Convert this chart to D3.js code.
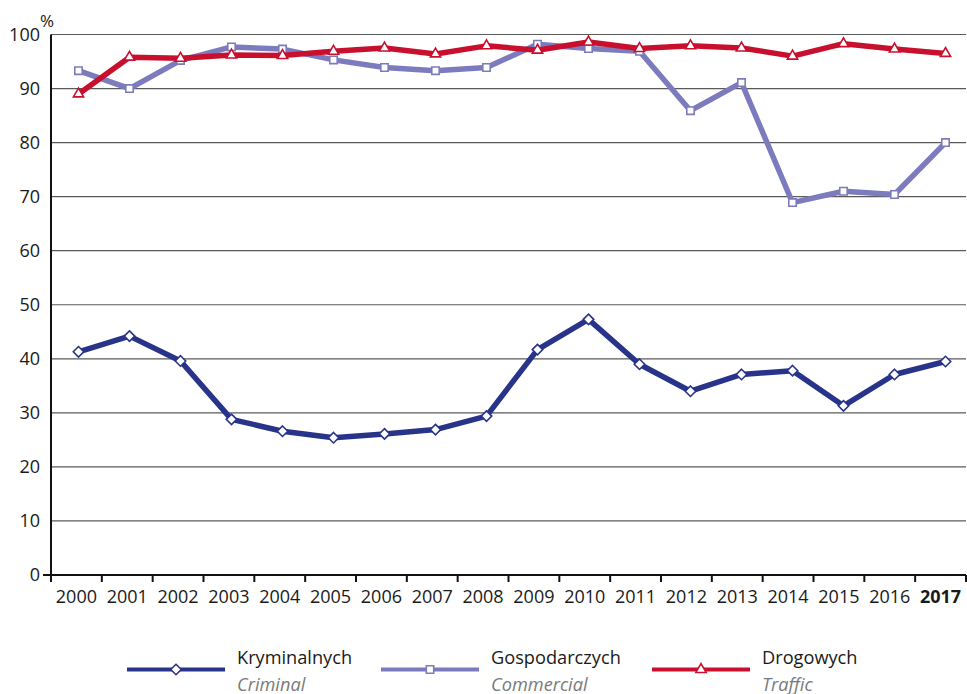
<!DOCTYPE html>
<html>
<head>
<meta charset="utf-8">
<script src="https://cdn.jsdelivr.net/npm/d3@7"></script>
<style>
  body { margin: 0; background: #fff; }
  svg { display: block; font-family: "Open Sans", sans-serif; }
  .tick-label { font-size: 18px; fill: #1a1a1a; }
  .legend-pl { font-size: 18.2px; fill: #1a1a1a; }
  .legend-en { font-size: 18.2px; fill: #7a7a7a; font-style: italic; }
</style>
</head>
<body>
<div id="chart"></div>
<script>
function drawChart() {

	///////////////////////////////////////////////////////////////////////////
	//////////////////////////////// The data /////////////////////////////////
	///////////////////////////////////////////////////////////////////////////

	var years = ["2000","2001","2002","2003","2004","2005","2006","2007","2008",
		"2009","2010","2011","2012","2013","2014","2015","2016","2017"];

	var criminal = [41.3, 44.2, 39.6, 28.8, 26.6, 25.4, 26.1, 26.9, 29.4,
		41.7, 47.3, 39.0, 34.0, 37.1, 37.8, 31.3, 37.1, 39.5];
	var commercial = [93.3, 90.0, 95.2, 97.7, 97.3, 95.3, 93.9, 93.3, 93.9,
		98.2, 97.4, 96.9, 85.9, 91.1, 68.9, 71.0, 70.4, 80.0];
	var traffic = [89.0, 95.8, 95.6, 96.2, 96.1, 96.9, 97.5, 96.4, 97.9,
		97.1, 98.6, 97.4, 97.9, 97.5, 96.0, 98.3, 97.3, 96.5];

	var yTicks = [0, 10, 20, 30, 40, 50, 60, 70, 80, 90, 100];

	var series = [
		{pl: "Kryminalnych", en: "Criminal", values: criminal, color: "#28338a", symbol: d3.symbolDiamond2, size: 70},
		{pl: "Gospodarczych", en: "Commercial", values: commercial, color: "#7b7bbd", symbol: d3.symbolSquare2, size: 70},
		{pl: "Drogowych", en: "Traffic", values: traffic, color: "#c8102e", symbol: d3.symbolTriangle2, size: 75}
	];

	///////////////////////////////////////////////////////////////////////////
	//////////////////////////// Set up the SVG ///////////////////////////////
	///////////////////////////////////////////////////////////////////////////

	var width = 967, height = 694;
	var plot = {left: 51, right: 966, top: 34.5, bottom: 575};

	var svg = d3.select("#chart").append("svg")
		.attr("width", width)
		.attr("height", height);

	//Axis uses bands, the markers sit slightly right of the band centres
	var xBand = d3.scaleBand().domain(years).range([plot.left, plot.right]);
	var x = d3.scalePoint().domain(years).range([78.5, 945.5]);
	var y = d3.scaleLinear().domain([0, 100]).range([plot.bottom, plot.top]);

	///////////////////////////////////////////////////////////////////////////
	//////////////////////////////// Grid & axes //////////////////////////////
	///////////////////////////////////////////////////////////////////////////

	svg.append("g").selectAll("line")
		.data(yTicks.filter(function(d) { return d > 0; }))
		.enter().append("line")
		.attr("x1", plot.left).attr("x2", plot.right)
		.attr("y1", function(d) { return y(d); })
		.attr("y2", function(d) { return y(d); })
		.style("stroke", "#5a5a5a")
		.style("stroke-width", 1.2);

	svg.append("g").selectAll("text")
		.data(yTicks)
		.enter().append("text")
		.attr("class", "tick-label")
		.attr("x", 40)
		.attr("y", function(d) { return y(d); })
		.attr("dy", "0.36em")
		.attr("text-anchor", "end")
		.text(function(d) { return d; });

	svg.append("text")
		.attr("class", "tick-label")
		.attr("x", 40)
		.attr("y", 27)
		.style("font-size", "17px")
		.text("%");

	//Year ticks on the band edges
	var edges = years.map(function(d) { return xBand(d); }).concat([plot.right]);
	svg.append("g").selectAll("line")
		.data(edges)
		.enter().append("line")
		.attr("x1", function(d) { return d; })
		.attr("x2", function(d) { return d; })
		.attr("y1", plot.bottom)
		.attr("y2", plot.bottom + 7)
		.style("stroke", "#111")
		.style("stroke-width", 2);

	svg.append("g").selectAll("text")
		.data(years)
		.enter().append("text")
		.attr("class", "tick-label")
		.attr("x", function(d) { return xBand(d) + xBand.bandwidth()/2; })
		.attr("y", 603)
		.attr("text-anchor", "middle")
		.style("font-weight", function(d) { return d === "2017" ? "bold" : null; })
		.text(function(d) { return d; });

	//Axis lines
	svg.append("line")
		.attr("x1", plot.left).attr("x2", plot.left)
		.attr("y1", plot.top).attr("y2", plot.bottom + 7)
		.style("stroke", "#111").style("stroke-width", 2);
	svg.append("line")
		.attr("x1", 43).attr("x2", plot.right)
		.attr("y1", plot.bottom).attr("y2", plot.bottom)
		.style("stroke", "#111").style("stroke-width", 2);

	///////////////////////////////////////////////////////////////////////////
	//////////////////////////////// The lines ////////////////////////////////
	///////////////////////////////////////////////////////////////////////////

	var line = d3.line()
		.x(function(d, i) { return x(years[i]); })
		.y(function(d) { return y(d); });

	var groups = svg.append("g").selectAll("g")
		.data(series)
		.enter().append("g");

	groups.append("path")
		.attr("d", function(d) { return line(d.values); })
		.style("fill", "none")
		.style("stroke", function(d) { return d.color; })
		.style("stroke-width", 5.5)
		.style("stroke-linejoin", "round");

	groups.each(function(s) {
		d3.select(this).selectAll(".marker")
			.data(s.values)
			.enter().append("path")
			.attr("class", "marker")
			.attr("transform", function(d, i) { return "translate(" + x(years[i]) + "," + y(d) + ")"; })
			.attr("d", d3.symbol().type(s.symbol).size(s.size))
			.style("fill", "#fff")
			.style("stroke", s.color)
			.style("stroke-width", 1.6);
	});

	///////////////////////////////////////////////////////////////////////////
	//////////////////////////////// The legend ///////////////////////////////
	///////////////////////////////////////////////////////////////////////////

	var legendX = [127, 381, 652];
	var legend = svg.append("g").selectAll("g")
		.data(series)
		.enter().append("g")
		.attr("transform", function(d, i) { return "translate(" + legendX[i] + ",669.5)"; });

	legend.append("line")
		.attr("x1", 0).attr("x2", 98)
		.style("stroke", function(d) { return d.color; })
		.style("stroke-width", 4);

	legend.append("path")
		.attr("transform", "translate(49,0)")
		.attr("d", function(d) { return d3.symbol().type(d.symbol).size(d.size)(); })
		.style("fill", "#fff")
		.style("stroke", function(d) { return d.color; })
		.style("stroke-width", 1.6);

	legend.append("text")
		.attr("class", "legend-pl")
		.attr("x", 110)
		.attr("y", -6)
		.text(function(d) { return d.pl; });

	legend.append("text")
		.attr("class", "legend-en")
		.attr("x", 110)
		.attr("y", 21)
		.text(function(d) { return d.en; });

}//function drawChart

drawChart();
</script>
</body>
</html>
